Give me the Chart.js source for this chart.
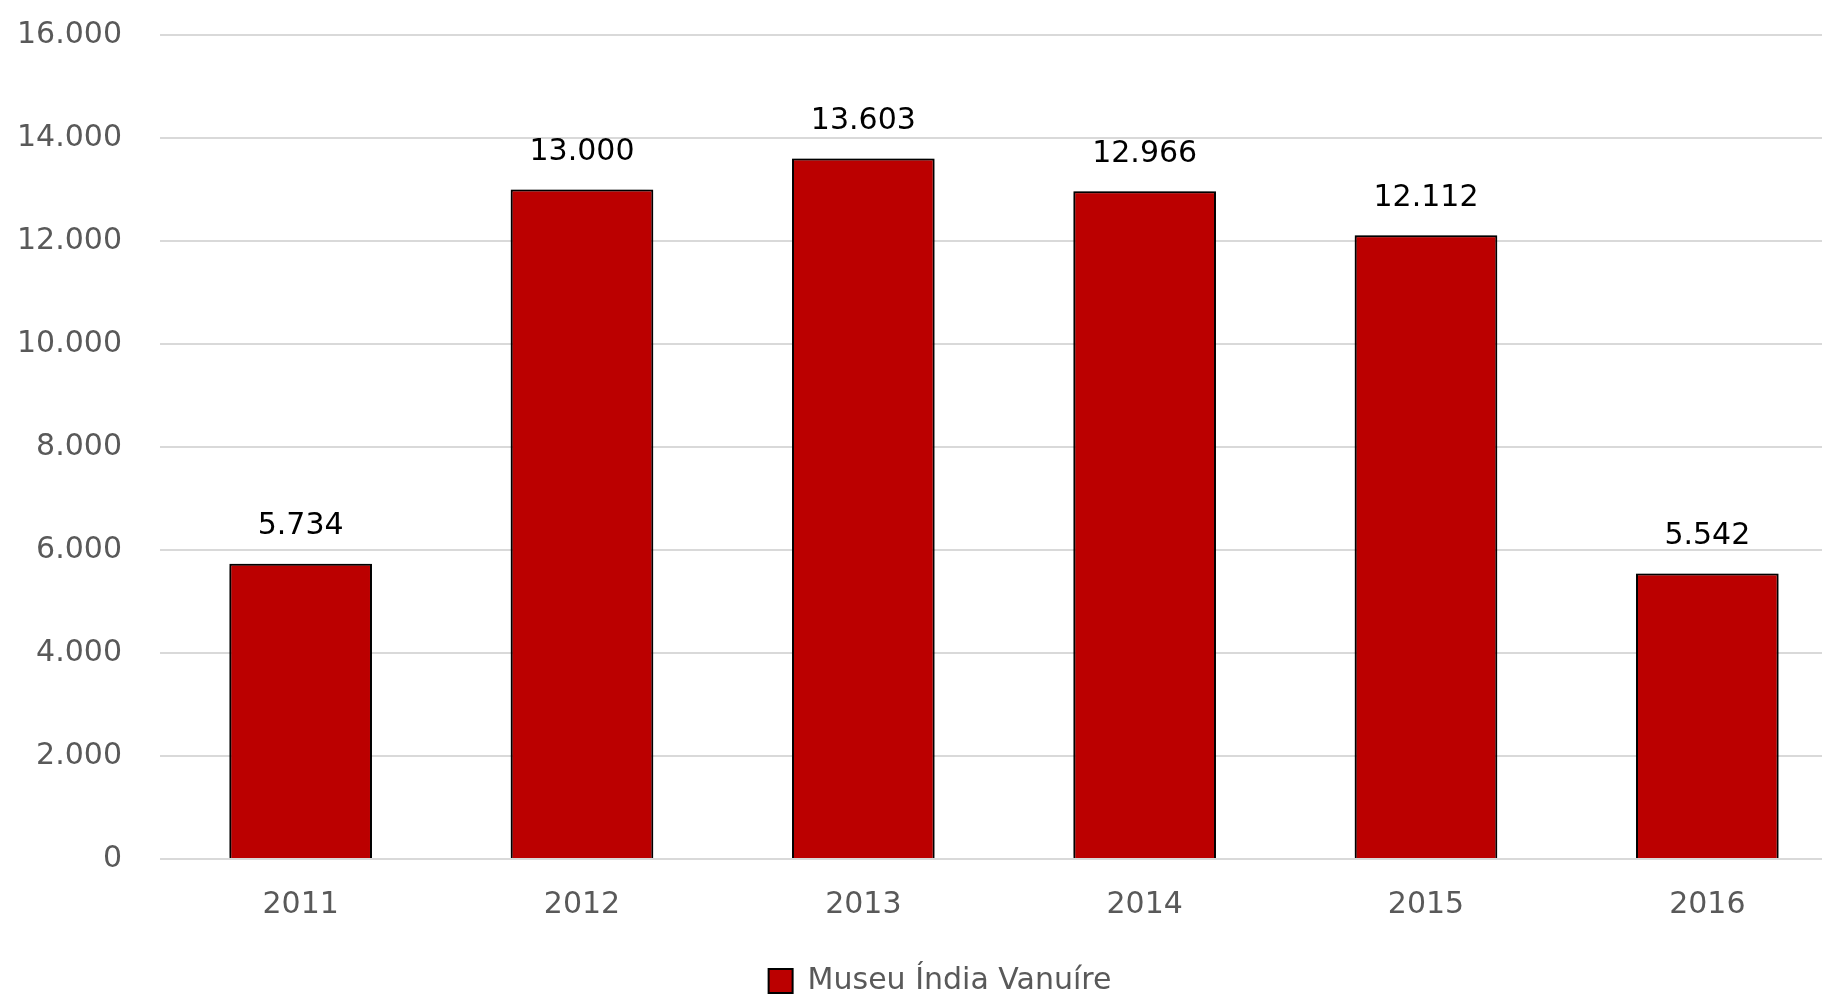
<!DOCTYPE html>
<html>
<head>
<meta charset="utf-8">
<script src="https://cdn.jsdelivr.net/npm/chart.js@4/dist/chart.umd.min.js"></script>
<style>
  html, body { margin: 0; padding: 0; background: #fff; overflow: hidden; }
  #wrap { width: 1848px; height: 1006px; position: relative; }
</style>
</head>
<body>
<div id="wrap"><canvas id="chart"></canvas></div>
<script>
var years = ['2011', '2012', '2013', '2014', '2015', '2016'];
var visitors = [5734, 13000, 13603, 12966, 12112, 5542];
var seriesName = 'Museu Índia Vanuíre';

var FONT = 'DejaVu Sans';

function fmt(v) {
    return String(v).replace(/\B(?=(\d{3})+(?!\d))/g, '.');
}

// bar value labels above each bar
var valueLabels = {
    id: 'valueLabels',
    afterDatasetsDraw: function(chart) {
        var ctx = chart.ctx;
        var meta = chart.getDatasetMeta(0);
        ctx.save();
        ctx.font = '30px "' + FONT + '"';
        ctx.fillStyle = '#000';
        ctx.textAlign = 'center';
        ctx.textBaseline = 'middle';
        meta.data.forEach(function(bar, i) {
            ctx.fillText(fmt(chart.data.datasets[0].data[i]), bar.x, bar.y - 37);
        });
        ctx.restore();
    }
};

// soft shadow behind bars
var barShadow = {
    id: 'barShadow',
    beforeDatasetDraw: function(chart) {
        var ctx = chart.ctx;
        ctx.save();
        ctx.shadowColor = 'rgba(0,0,0,0.45)';
        ctx.shadowBlur = 7;
        ctx.shadowOffsetX = -2;
    },
    afterDatasetDraw: function(chart) {
        chart.ctx.restore();
    }
};

// the legend sits a bit right of the canvas middle in the original
var legendShift = {
    id: 'legendShift',
    afterLayout: function(chart) {
        chart.legend.left += 16;
        chart.legend.right += 16;
    }
};

var ctx = document.getElementById('chart').getContext('2d');

var chart = new Chart(ctx, {
    type: 'bar',
    data: {
        labels: years,
        datasets: [{
            label: seriesName,
            data: visitors,
            backgroundColor: '#bb0000',
            borderColor: '#000000',
            borderWidth: 2,
            barPercentage: 0.507,
            categoryPercentage: 1.0
        }]
    },
    options: {
        responsive: true,
        maintainAspectRatio: false,
        animation: false,
        layout: { padding: { top: 35, left: 0, right: 0, bottom: 0 } },
        plugins: {
            tooltip: { enabled: false },
            legend: {
                position: 'bottom',
                labels: {
                    color: '#595959',
                    font: { family: FONT, size: 30 },
                    boxWidth: 24,
                    boxHeight: 24,
                    padding: 15
                }
            }
        },
        scales: {
            x: {
                grid: { display: false, drawTicks: false },
                border: { display: false },
                ticks: {
                    color: '#595959',
                    font: { family: FONT, size: 30 },
                    padding: 28
                }
            },
            y: {
                min: 0,
                max: 16000,
                grid: { color: '#d9d9d9', lineWidth: 2, drawTicks: false },
                border: { display: false },
                afterFit: function(scale) {
                    scale.width = 160;
                    scale.paddingTop = 0;
                    scale.paddingBottom = 0;
                },
                ticks: {
                    stepSize: 2000,
                    color: '#595959',
                    font: { family: FONT, size: 30 },
                    padding: 38,
                    callback: function(v) { return fmt(v); }
                }
            }
        }
    },
    plugins: [barShadow, valueLabels, legendShift]
});
</script>
</body>
</html>
